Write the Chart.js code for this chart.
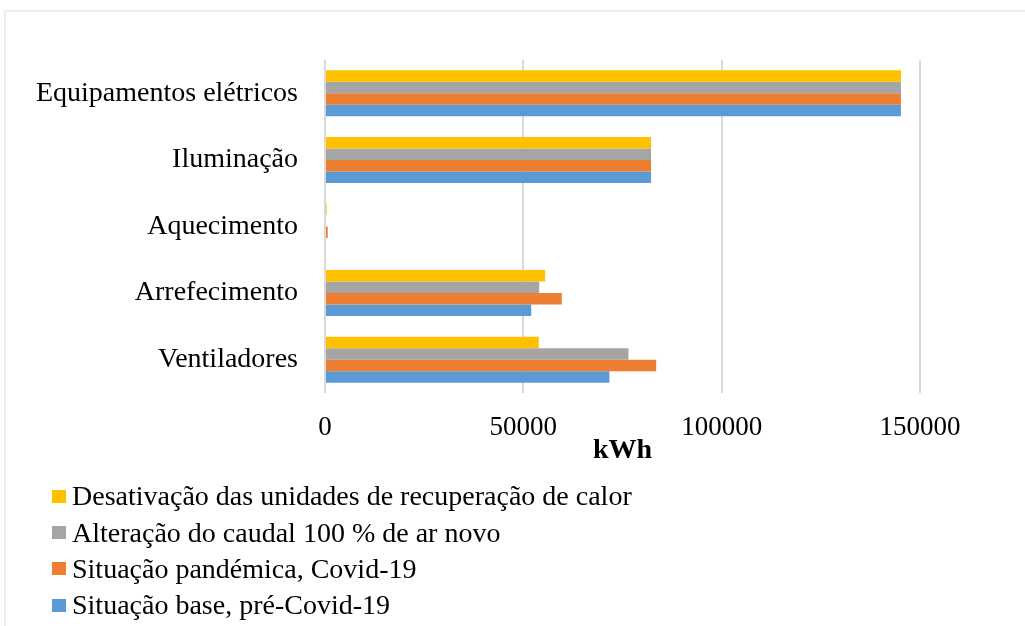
<!DOCTYPE html>
<html lang="pt">
<head>
<meta charset="utf-8">
<title>Consumo de energia por uso final</title>
<script src="https://cdn.jsdelivr.net/npm/chart.js@4/dist/chart.umd.min.js"></script>
<style>
  html, body { margin: 0; padding: 0; background: #ffffff; }
  #wrap { position: relative; width: 1025px; height: 626px; overflow: hidden; background: #ffffff; }
  #frame {
    position: absolute; left: 4px; top: 10px; width: 1100px; height: 700px;
    border-top: 2px solid #eeeeee; border-left: 2px solid #eeeeee; box-sizing: border-box;
  }
  #c { position: absolute; left: 0; top: 0; }
  #legend {
    position: absolute; left: 52px; top: 478px;
    font-family: "Liberation Serif", "Times New Roman", serif; font-size: 28px; color: #000;
  }
  .item { display: flex; align-items: center; height: 36.4px; white-space: nowrap; }
  .swatch { width: 14px; height: 13px; margin-right: 6px; flex: none; }
</style>
</head>
<body>
<div id="wrap">
  <div id="frame"></div>
  <canvas id="c" width="1025" height="626"></canvas>
  <div id="legend"></div>
</div>
<script>
// Energy use by end use (kWh) for four operating scenarios
const categories = ["Equipamentos elétricos", "Iluminação", "Aquecimento", "Arrefecimento", "Ventiladores"];

const seriesNames = [
  "Desativação das unidades de recuperação de calor",
  "Alteração do caudal 100 % de ar novo",
  "Situação pandémica, Covid-19",
  "Situação base, pré-Covid-19"
];

const desativacaoRecuperacao = [145200, 82200, 430, 55500, 53900];
const caudalArNovo           = [145200, 82200, 0,   54000, 76500];
const situacaoPandemica      = [145200, 82200, 680, 59700, 83500];
const situacaoBase           = [145200, 82200, 0,   52000, 71700];

const seriesColors = ["#FFC000", "#A5A5A5", "#ED7D31", "#5B9BD5"];

const xTicks = [0, 50000, 100000, 150000];

const serif = "'Liberation Serif', 'Times New Roman', serif";

const seriesValues = [desativacaoRecuperacao, caudalArNovo, situacaoPandemica, situacaoBase];

const chart = new Chart(document.getElementById("c"), {
  type: "bar",
  data: {
    labels: categories,
    datasets: seriesValues.map((vals, i) => ({
      label: seriesNames[i],
      data: vals,
      backgroundColor: seriesColors[i],
      borderWidth: 0,
      categoryPercentage: 0.69,
      barPercentage: 1.0
    }))
  },
  options: {
    indexAxis: "y",
    responsive: false,
    animation: false,
    devicePixelRatio: 1,
    layout: { padding: { left: 0, right: 105, top: 60, bottom: 162 } },
    plugins: {
      legend: { display: false },
      tooltip: { enabled: false }
    },
    scales: {
      x: {
        min: 0,
        max: 150000,
        bounds: "data",
        afterBuildTicks(scale) {
          scale.ticks = xTicks.map(v => ({ value: v }));
        },
        afterFit(scale) { scale.height = 71; },
        ticks: {
          stepSize: 50000,
          autoSkip: false,
          maxRotation: 0,
          padding: 21,
          color: "#000000",
          font: { family: serif, size: 27, lineHeight: 1 },
          callback: v => String(v)
        },
        grid: { color: "#d9d9d9", lineWidth: 2, drawTicks: false },
        border: { display: false },
        title: {
          display: true,
          text: "kWh",
          color: "#000000",
          padding: { top: 0, bottom: -1 },
          font: { family: serif, size: 28, weight: "bold", lineHeight: 1 }
        }
      },
      y: {
        afterFit(scale) { scale.width = 325; },
        grid: { display: false, drawTicks: false },
        border: { display: false },
        ticks: {
          padding: 27,
          color: "#000000",
          font: { family: serif, size: 28 }
        }
      }
    }
  }
});

// Legend as a vertical list below the axis title
const legend = document.getElementById("legend");
seriesNames.forEach((name, i) => {
  const row = document.createElement("div");
  row.className = "item";
  const sw = document.createElement("span");
  sw.className = "swatch";
  sw.style.background = seriesColors[i];
  const tx = document.createElement("span");
  tx.textContent = name;
  row.appendChild(sw);
  row.appendChild(tx);
  legend.appendChild(row);
});
</script>
</body>
</html>
